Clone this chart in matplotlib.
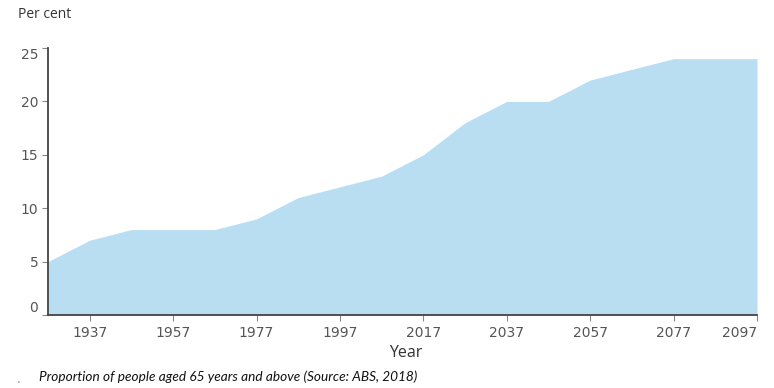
import matplotlib.pyplot as plt

# ----------------------------------------------------------------------------------------------------------------------
# Proportion of people aged 65 years and above, per cent (ABS, 2018)

years = [1927, 1937, 1947, 1957, 1967, 1977, 1987, 1997, 2007, 2017,
         2027, 2037, 2047, 2057, 2067, 2077, 2087, 2097]
per_cent = [5, 7, 8, 8, 8, 9, 11, 12, 13, 15, 18, 20, 20, 22, 23, 24, 24, 24]

x_ticks = [1937, 1957, 1977, 1997, 2017, 2037, 2057, 2077, 2097]
y_ticks = [0, 5, 10, 15, 20, 25]

# ----------------------------------------------------------------------------------------------------------------------

W, H = 774, 388
fig = plt.figure(figsize=(W / 100, H / 100), dpi=100)
ax = fig.add_axes([48 / W, 1 - 315 / H, (757 - 48) / W, (315 - 48) / H])

ax.fill_between(years, per_cent, 0, color="#badef1", linewidth=0)
ax.set_xlim(years[0], years[-1])
ax.set_ylim(0, 25)

# Axis styling
for side in ["top", "right"]:
    ax.spines[side].set_visible(False)
for side in ["left", "bottom"]:
    ax.spines[side].set_color("#444444")
    ax.spines[side].set_linewidth(1.3)

ax.set_xticks(x_ticks)
ax.set_yticks(y_ticks)
ax.tick_params(axis="both", colors="#888888", labelcolor="#555555",
               labelsize=10, length=4, width=0.8)
ax.tick_params(axis="x", pad=4)
ax.tick_params(axis="y", pad=3)

# End labels pulled inside like the original
ylabels = ax.get_yticklabels()
ylabels[0].set_verticalalignment("bottom")
ylabels[-1].set_verticalalignment("top")
xlabels = ax.get_xticklabels()
xlabels[-1].set_horizontalalignment("right")

fig.text(18 / W, 1 - 14 / H, "Per cent", family="Open Sans", fontsize=10,
         color="#333333", va="center", ha="left")
fig.text(406 / W, 1 - 353 / H, "Year", family="Open Sans", fontsize=11.5,
         color="#333333", va="center", ha="center")
fig.text(39 / W, 1 - 377 / H, "Proportion of people aged 65 years and above (Source: ABS, 2018)",
         family="Lato", style="italic", fontsize=9.8, color="#111111",
         va="center", ha="left")
fig.text(18 / W, 1 - 383 / H, "'", fontsize=5, color="#333333", va="center", ha="center")

fig.savefig("out.png", dpi=100)
